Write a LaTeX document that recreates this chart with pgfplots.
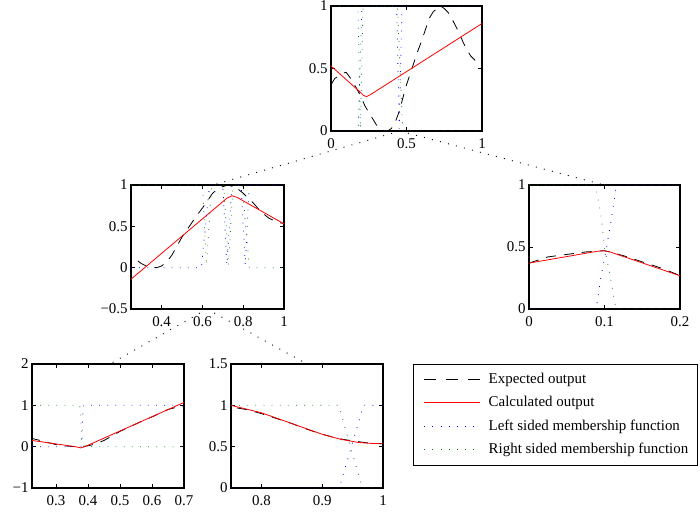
\documentclass[border=0pt]{standalone}
\usepackage{fontspec}
\setmainfont{Liberation Serif}
\usepackage{pgfplots}
\usepackage{pgfplotstable}
\pgfplotsset{compat=1.18}
\definecolor{mfgreen}{rgb}{0,0.5,0}

% expected output, shared by all panels
\pgfplotstableread{
x y
0 0.37
0.025 0.42
0.05 0.44
0.075 0.46
0.1 0.47
0.125 0.43
0.15 0.38
0.175 0.33
0.2 0.27
0.225 0.2
0.25 0.15
0.275 0.10
0.3 0.05
0.325 0.02
0.35 0.005
0.375 0.0
0.4 0.02
0.425 0.07
0.45 0.15
0.475 0.26
0.5 0.37
0.525 0.46
0.55 0.55
0.575 0.64
0.6 0.72
0.625 0.81
0.65 0.9
0.675 0.95
0.7 0.98
0.725 1.0
0.75 0.98
0.775 0.95
0.8 0.9
0.825 0.84
0.85 0.78
0.875 0.71
0.9 0.65
0.925 0.6
0.95 0.57
0.975 0.545
1.0 0.535
}\expected

\pgfplotsset{
  panel/.style={
    scale only axis, anchor=south west,
    tick align=inside, major tick length=3pt,
    axis line style={line width=0.8pt},
    every tick/.style={black, line width=0.4pt},
    /pgf/number format/assume math mode=true,
    tick label style={font=\fontsize{11.2}{13}\selectfont},
    xticklabel style={yshift=-2pt},
    yticklabel style={xshift=1pt},
  },
  expected/.style={black, line width=0.6pt, dash pattern=on 7.5pt off 6pt},
  calculated/.style={red, line width=0.6pt},
  leftmf/.style={blue, line width=0.6pt, dash pattern=on 0.6pt off 5.5pt},
  rightmf/.style={mfgreen, line width=0.6pt, dash pattern=on 0.6pt off 5.5pt},
}

\begin{document}
\begin{tikzpicture}
\useasboundingbox (0,0) rectangle (525pt,388.5pt);

% root
\begin{axis}[panel, at={(248.25pt,290.25pt)}, width=113.25pt, height=93.75pt,
  xmin=0, xmax=1, ymin=0, ymax=1, xtick={0,0.5,1}, ytick={0,0.5,1}]
\addplot[expected] table {\expected};
\addplot[calculated] coordinates {(0,0.52) (0.19,0.315) (0.215,0.285) (0.235,0.275) (0.26,0.29) (1,0.86)};
\addplot[leftmf] coordinates {(0,0) (0.18,0) (0.205,1) (0.435,1) (0.452,0.02) (0.47,1) (1,1)};
\addplot[rightmf] coordinates {(0,1) (0.178,1) (0.195,0.02) (0.212,1) (0.44,1) (0.475,0) (1,0)};
\end{axis}

% middle left
\begin{axis}[panel, at={(98.25pt,156.75pt)}, width=114.75pt, height=93pt,
  xmin=0.25, xmax=1, ymin=-0.5, ymax=1, xtick={0.4,0.6,0.8,1},
  ytick={-0.5,0,0.5,1}, yticklabels={−0.5,0,0.5,1}]
\addplot[expected] table {\expected};
\addplot[calculated] coordinates {(0.25,-0.14) (0.72,0.84) (0.745,0.87) (0.77,0.85) (1,0.53)};
\addplot[leftmf] coordinates {(0.25,0) (0.595,0) (0.635,1) (0.70,1) (0.72,0.03) (0.745,1) (0.79,1) (0.81,0.03) (0.83,1) (1,1)};
\addplot[rightmf] coordinates {(0.25,1) (0.60,1) (0.62,0.03) (0.645,1) (0.705,1) (0.728,0.03) (0.75,1) (0.795,1) (0.83,0) (1,0)};
\end{axis}

% middle right
\begin{axis}[panel, at={(396.75pt,156.75pt)}, width=113.25pt, height=93pt,
  xmin=0, xmax=0.2, ymin=0, ymax=1, xtick={0,0.1,0.2}, ytick={0,0.5,1}]
\addplot[expected] table {\expected};
\addplot[calculated] coordinates {(0,0.37) (0.09,0.465) (0.097,0.47) (0.105,0.465) (0.2,0.268)};
\addplot[leftmf] coordinates {(0,0) (0.089,0) (0.095,0.25) (0.102,0.47) (0.109,0.72) (0.115,0.97) (0.117,1) (0.2,1)};
\addplot[rightmf] coordinates {(0,1) (0.088,1) (0.095,0.77) (0.1,0.5) (0.108,0.25) (0.114,0.04) (0.116,0) (0.2,0)};
\end{axis}

% bottom left
\begin{axis}[panel, at={(24pt,22.5pt)}, width=114pt, height=93pt,
  xmin=0.225, xmax=0.7, ymin=-1, ymax=2, xtick={0.3,0.4,0.5,0.6,0.7},
  ytick={-1,0,1,2}, yticklabels={−1,0,1,2}]
\addplot[expected] table {\expected};
\addplot[calculated] coordinates {(0.225,0.15) (0.36,0.0) (0.377,-0.03) (0.39,0.0) (0.7,1.07)};
\addplot[leftmf] coordinates {(0.225,0) (0.378,0) (0.381,0.15) (0.384,0.8) (0.387,1) (0.7,1)};
\addplot[rightmf] coordinates {(0.225,1) (0.374,1) (0.377,0.85) (0.38,0.15) (0.384,0) (0.7,0)};
\end{axis}

% bottom right
\begin{axis}[panel, at={(173.25pt,22.5pt)}, width=114pt, height=93pt,
  xmin=0.75, xmax=1, ymin=0, ymax=1.5, xtick={0.8,0.9,1}, ytick={0,0.5,1,1.5}]
\addplot[expected] table {\expected};
\addplot[calculated] coordinates {(0.75,1.0) (0.8,0.91) (0.85,0.78) (0.9,0.65) (0.93,0.59) (0.96,0.55) (0.98,0.54) (1.0,0.535)};
\addplot[leftmf] coordinates {(0.75,0) (0.928,0) (0.968,1) (1,1)};
\addplot[rightmf] coordinates {(0.75,1) (0.927,1) (0.966,0) (1,0)};
\end{axis}

% legend
\draw[line width=0.6pt] (309.75pt,39.75pt) rectangle (522.75pt,115.5pt);
\begin{axis}[hide axis, scale only axis, anchor=south west,
  at={(309.75pt,39.75pt)}, width=213pt, height=75.75pt,
  xmin=0, xmax=1, ymin=0, ymax=1,
  legend cell align=left,
  legend image code/.code={\draw[#1] (0pt,0pt) -- (42pt,0pt); \path (46pt,0pt);},
  legend style={at={(0,1)}, anchor=north west, draw=none, fill=none,
    font=\fontsize{11.2}{13}\selectfont, row sep=4pt,
    inner xsep=8pt, inner ysep=5pt}]
\addlegendimage{black, line width=0.6pt, dash pattern=on 8.5pt off 8pt}
\addlegendentry{Expected output}
\addlegendimage{red, line width=0.6pt}
\addlegendentry{Calculated output}
\addlegendimage{blue, line width=0.6pt, dash pattern=on 0.6pt off 5.5pt}
\addlegendentry{Left sided membership function}
\addlegendimage{mfgreen, line width=0.6pt, dash pattern=on 0.6pt off 5.5pt}
\addlegendentry{Right sided membership function}
\end{axis}

% tree connectors
\begin{scope}[black, line width=0.7pt, dash pattern=on 0.7pt off 5.5pt]
\draw (300pt,290.25pt) -- (159.75pt,249.75pt);
\draw (300pt,290.25pt) -- (453pt,249.75pt);
\draw (155.25pt,156.75pt) -- (82.5pt,115.5pt);
\draw (155.25pt,156.75pt) -- (230.25pt,115.5pt);
\end{scope}
\end{tikzpicture}
\end{document}
